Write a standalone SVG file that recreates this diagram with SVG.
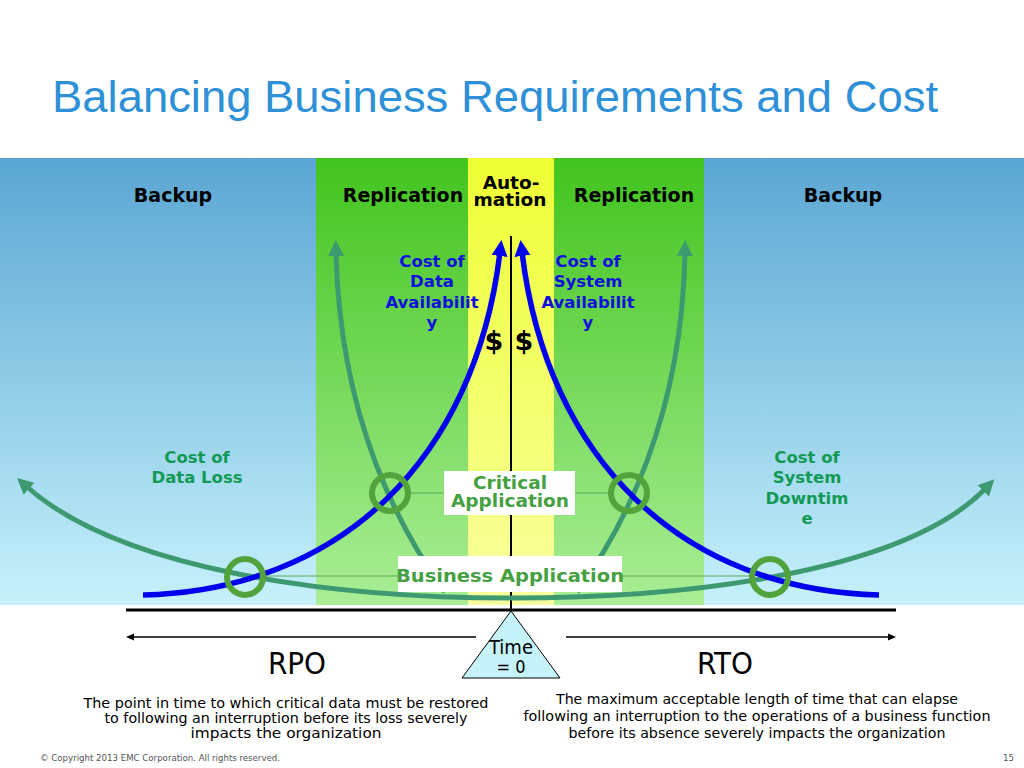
<svg xmlns="http://www.w3.org/2000/svg" width="1024" height="768" viewBox="0 0 1024 768">
<defs>
<linearGradient id="gBlue" x1="0" y1="0" x2="0" y2="1">
<stop offset="0" stop-color="#5aa6d3"/><stop offset="1" stop-color="#c6f1fb"/>
</linearGradient>
<linearGradient id="gGreen" x1="0" y1="0" x2="0" y2="1">
<stop offset="0" stop-color="#42c41e"/><stop offset="1" stop-color="#aaee96"/>
</linearGradient>
<linearGradient id="gYellow" x1="0" y1="0" x2="0" y2="1">
<stop offset="0" stop-color="#eeff33"/><stop offset="1" stop-color="#f8ff9e"/>
</linearGradient>
<marker id="mBlue" markerUnits="userSpaceOnUse" markerWidth="20" markerHeight="20" viewBox="0 0 20 20" refX="4" refY="10" orient="auto">
<path d="M0,2 L16,10 L0,18 Z" fill="#0000ee"/>
</marker>
<marker id="mGreen" markerUnits="userSpaceOnUse" markerWidth="20" markerHeight="20" viewBox="0 0 20 20" refX="4" refY="10" orient="auto">
<path d="M0,2 L16,10 L0,18 Z" fill="#3d9970"/>
</marker>
<marker id="mBlack" markerUnits="userSpaceOnUse" markerWidth="10" markerHeight="10" viewBox="0 0 10 10" refX="2" refY="5" orient="auto">
<path d="M0,1.5 L8,5 L0,8.5 Z" fill="#000"/>
</marker>
<style>
.hdr{font-family:"DejaVu Sans","Verdana",sans-serif;font-weight:bold;font-size:19px;fill:#000;text-anchor:middle}
.auto{font-family:"DejaVu Sans","Verdana",sans-serif;font-weight:bold;font-size:18.5px;fill:#000;text-anchor:middle}
.blueLbl{font-family:"DejaVu Sans",sans-serif;font-weight:bold;font-size:16.5px;fill:#1010dd;text-anchor:middle}
.greenLbl{font-family:"DejaVu Sans",sans-serif;font-weight:bold;font-size:16.5px;fill:#129a55;text-anchor:middle}
.appLbl{font-family:"DejaVu Sans",sans-serif;font-weight:bold;font-size:18.5px;fill:#44a040;text-anchor:middle}
.cond{font-family:"DejaVu Sans Condensed","Liberation Sans Narrow",sans-serif;fill:#000;text-anchor:middle}
.desc{font-family:"DejaVu Sans Condensed","Liberation Sans Narrow",sans-serif;fill:#000;text-anchor:middle;font-size:14px}
.blueCurve{fill:none;stroke:#0000ee;stroke-width:5.5}
.greenCurve{fill:none;stroke:#3d9970;stroke-width:5}
.ring{fill:none;stroke:#52a33c;stroke-width:6}
.thin{stroke:#5aaa5a;stroke-width:1;fill:none}
.box{fill:#fff}
</style>
</defs>
<rect x="0" y="0" width="1024" height="768" fill="#fff"/>
<text x="52" y="112" font-family="Liberation Sans, Arial, sans-serif" font-size="45" fill="#2e90d6" textLength="886" lengthAdjust="spacingAndGlyphs">Balancing Business Requirements and Cost</text>

<g id="bands">
<rect x="0" y="158" width="1024" height="447" fill="url(#gBlue)"/>
<rect x="316" y="158" width="388" height="447" fill="url(#gGreen)"/>
<rect x="468" y="158" width="86" height="447" fill="url(#gYellow)"/>
</g>

<g id="headers">
<text class="hdr" x="173" y="202">Backup</text>
<text class="hdr" x="403" y="202">Replication</text>
<text class="auto" x="511" y="189">Auto-</text>
<text class="auto" x="510" y="206">mation</text>
<text class="hdr" x="634" y="202">Replication</text>
<text class="hdr" x="843" y="202">Backup</text>
</g>

<g id="connectors">
<line x1="511" y1="236" x2="511" y2="611" stroke="#000" stroke-width="2"/>
<path class="greenCurve" d="M511,598 C330,598 120,570 26,486" marker-end="url(#mGreen)"/>
<path class="greenCurve" d="M511,598 C690,598 905,572 986,488" marker-end="url(#mGreen)"/>
<path class="greenCurve" d="M445,592 C400,530 340,420 336,252" marker-end="url(#mGreen)"/>
<path class="greenCurve" d="M577,592 C622,530 682,420 685,252" marker-end="url(#mGreen)"/>
<path class="blueCurve" d="M143,595 C340,590 475,460 500,252" marker-end="url(#mBlue)"/>
<path class="blueCurve" d="M879,595 C682,590 547,460 522,252" marker-end="url(#mBlue)"/>
<line class="thin" x1="408" y1="493" x2="446" y2="493"/>
<line class="thin" x1="574" y1="493" x2="611" y2="493"/>
<line class="thin" x1="263" y1="576" x2="400" y2="576"/>
<line class="thin" x1="620" y1="576" x2="752" y2="576"/>
</g>

<g id="rings">
<circle class="ring" cx="245" cy="577" r="18"/>
<circle class="ring" cx="390" cy="493" r="18"/>
<circle class="ring" cx="629" cy="493" r="18"/>
<circle class="ring" cx="770" cy="577" r="18"/>
</g>

<g id="cost-data-availability">
<text class="blueLbl" x="432" y="267">Cost of</text>
<text class="blueLbl" x="432" y="287">Data</text>
<text class="blueLbl" x="432" y="308">Availabilit</text>
<text class="blueLbl" x="432" y="328">y</text>
</g>
<g id="cost-system-availability">
<text class="blueLbl" x="588" y="267">Cost of</text>
<text class="blueLbl" x="588" y="287">System</text>
<text class="blueLbl" x="588" y="308">Availabilit</text>
<text class="blueLbl" x="588" y="328">y</text>
</g>
<g id="dollars">
<text x="494" y="350" font-family="DejaVu Sans, sans-serif" font-weight="bold" font-size="27" text-anchor="middle">$</text>
<text x="524" y="350" font-family="DejaVu Sans, sans-serif" font-weight="bold" font-size="27" text-anchor="middle">$</text>
</g>
<g id="cost-data-loss">
<text class="greenLbl" x="197" y="463">Cost of</text>
<text class="greenLbl" x="197" y="483">Data Loss</text>
</g>
<g id="cost-system-downtime">
<text class="greenLbl" x="807" y="463">Cost of</text>
<text class="greenLbl" x="807" y="483">System</text>
<text class="greenLbl" x="807" y="504">Downtim</text>
<text class="greenLbl" x="807" y="524">e</text>
</g>

<g id="critical-application">
<rect class="box" x="444" y="471" width="131" height="44"/>
<text class="appLbl" x="510" y="489">Critical</text>
<text class="appLbl" x="510" y="507">Application</text>
</g>
<g id="business-application">
<rect class="box" x="398" y="556" width="224" height="36"/>
<text class="appLbl" x="510" y="582" textLength="228" lengthAdjust="spacingAndGlyphs">Business Application</text>
</g>

<g id="timeline">
<line x1="126" y1="610" x2="896" y2="610" stroke="#000" stroke-width="3"/>
<line x1="476" y1="637" x2="132" y2="637" stroke="#000" stroke-width="1.5" marker-end="url(#mBlack)"/>
<line x1="566" y1="637" x2="890" y2="637" stroke="#000" stroke-width="1.5" marker-end="url(#mBlack)"/>
</g>
<g id="time-zero">
<path d="M511,611 L462,678 L560,678 Z" fill="#c6f2fa" stroke="#000" stroke-width="1"/>
<text class="cond" x="511" y="654" font-size="20">Time</text>
<text class="cond" x="511" y="673" font-size="18">= 0</text>
</g>
<g id="rpo">
<text class="cond" x="297" y="674" font-size="31">RPO</text>
<text class="desc" x="286" y="708" textLength="405" lengthAdjust="spacingAndGlyphs">The point in time to which critical data must be restored</text>
<text class="desc" x="286" y="723" textLength="363" lengthAdjust="spacingAndGlyphs">to following an interruption before its loss severely</text>
<text class="desc" x="286" y="738" textLength="191" lengthAdjust="spacingAndGlyphs">impacts the organization</text>
</g>
<g id="rto">
<text class="cond" x="725" y="674" font-size="31">RTO</text>
<text class="desc" x="757" y="704" textLength="402" lengthAdjust="spacingAndGlyphs">The maximum acceptable length of time that can elapse</text>
<text class="desc" x="757" y="721" textLength="467" lengthAdjust="spacingAndGlyphs">following an interruption to the operations of a business function</text>
<text class="desc" x="757" y="738" textLength="377" lengthAdjust="spacingAndGlyphs">before its absence severely impacts the organization</text>
</g>
<text x="40" y="761" font-family="DejaVu Sans Condensed, sans-serif" font-size="9.5" fill="#555" textLength="240" lengthAdjust="spacingAndGlyphs">© Copyright 2013 EMC Corporation. All rights reserved.</text>
<text x="1003" y="761" font-family="DejaVu Sans Condensed, sans-serif" font-size="9.5" fill="#555">15</text>
</svg>
